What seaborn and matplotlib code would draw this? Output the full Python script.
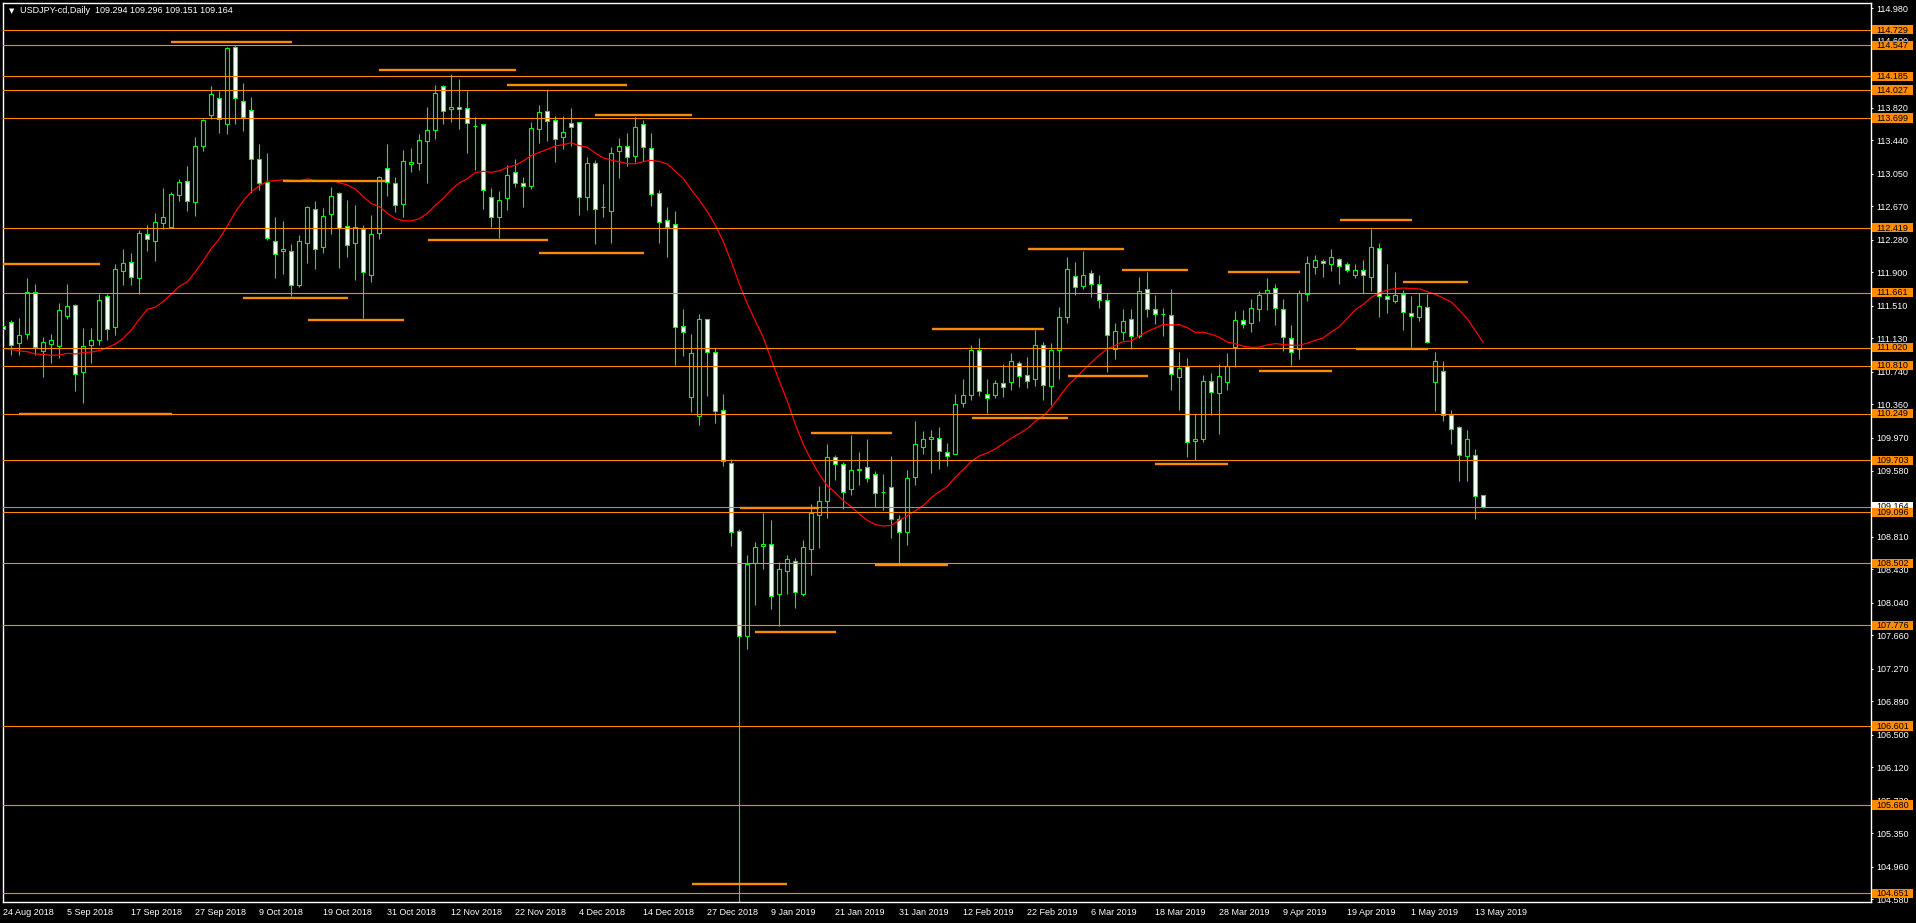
import numpy as np
import pandas as pd
import matplotlib
matplotlib.use('Agg')
import matplotlib.pyplot as plt
import matplotlib.patches as mpatches
import matplotlib.transforms as mtransforms
import seaborn as sns

# ==========================
# USDJPY-cd Daily, 24 Aug 2018 - 14 May 2019 (bar by bar)
# ==========================
opens = [
    111.272, 111.315, 111.070, 111.182, 111.665, 110.976, 111.066, 111.042, 111.385, 111.513,
    110.739, 111.046, 111.105, 111.618, 111.256, 111.910, 112.015, 111.828, 112.342, 112.260,
    112.470, 112.424, 112.797, 112.961, 112.715, 113.369, 113.731, 113.929, 113.626, 114.525,
    113.894, 113.789, 113.217, 112.949, 112.260, 112.151, 112.143, 111.754, 112.236, 112.633,
    112.190, 112.575, 112.820, 112.435, 112.236, 112.400, 111.863, 112.353, 113.112, 112.937,
    112.699, 113.158, 113.178, 113.427, 113.555, 114.069, 113.800, 113.824, 113.812, 113.610,
    113.625, 112.773, 112.540, 112.762, 113.065, 112.937, 112.902, 113.567, 113.777, 113.672,
    113.474, 113.637, 113.649, 112.773, 113.180, 112.666, 112.610, 113.318, 113.370, 113.262,
    113.624, 113.344, 112.821, 112.506, 112.467, 111.267, 110.446, 110.218, 111.349, 110.965,
    110.287, 109.669, 108.879, 107.648, 108.508, 108.706, 108.732, 108.145, 108.417, 108.534,
    108.145, 108.672, 109.069, 109.233, 109.738, 109.657, 109.365, 109.595, 109.630, 109.540,
    109.338, 109.388, 109.023, 108.863, 109.505, 109.863, 109.949, 109.960, 109.797, 109.774,
    110.369, 110.462, 110.988, 110.474, 110.462, 110.602, 110.614, 110.836, 110.696, 110.649,
    111.046, 110.567, 110.988, 111.373, 111.851, 111.735, 111.886, 111.758, 111.571, 110.999,
    111.198, 111.350, 111.151, 111.700, 111.466, 111.416, 111.396, 110.680, 110.800, 109.925,
    109.956, 110.625, 110.493, 110.621, 111.022, 111.337, 111.310, 111.474, 111.653, 111.711,
    111.466, 111.127, 110.999, 111.641, 111.956, 112.026, 111.991, 112.049, 111.991, 111.870,
    111.921, 111.839, 112.178, 111.618, 111.559, 111.641, 111.419, 111.372, 111.489, 110.621,
    110.742, 110.228, 110.088, 109.758, 109.762, 109.294,
]
highs = [
    111.490, 111.342, 111.361, 111.832, 111.758, 111.140, 111.178, 111.536, 111.758, 111.529,
    111.245, 111.245, 111.641, 111.641, 111.996, 112.171, 112.124, 112.389, 112.451, 112.591,
    112.883, 112.832, 112.988, 113.140, 113.478, 113.684, 114.073, 114.015, 114.532, 114.548,
    114.108, 113.945, 113.396, 113.291, 112.544, 112.497, 112.229, 112.334, 112.672, 112.730,
    112.645, 112.894, 112.839, 112.742, 112.684, 112.450, 112.567, 113.022, 113.396, 113.011,
    113.326, 113.349, 113.513, 113.828, 114.084, 114.081, 114.213, 114.155, 114.014, 113.707,
    113.633, 112.878, 112.847, 113.147, 113.221, 113.011, 113.653, 113.851, 114.026, 113.723,
    113.723, 113.812, 113.649, 113.244, 113.206, 112.929, 113.357, 113.465, 113.525, 113.711,
    113.672, 113.525, 112.860, 112.662, 112.614, 111.470, 111.176, 111.409, 111.349, 111.016,
    110.477, 109.717, 108.901, 108.598, 108.749, 109.091, 109.009, 108.516, 108.598, 108.564,
    108.771, 109.194, 109.401, 109.894, 109.764, 109.680, 109.999, 109.797, 109.953, 109.575,
    109.544, 109.754, 109.066, 109.591, 110.163, 110.046, 110.058, 110.093, 109.906, 110.478,
    110.653, 111.046, 111.132, 110.653, 110.641, 110.828, 110.953, 110.863, 110.910, 111.229,
    111.085, 111.073, 111.490, 112.077, 112.019, 112.147, 111.922, 111.867, 111.657, 111.307,
    111.466, 111.466, 111.844, 111.902, 111.634, 111.478, 111.703, 110.968, 110.898, 110.248,
    110.699, 110.723, 110.828, 110.952, 111.446, 111.458, 111.586, 111.684, 111.832, 111.762,
    111.586, 111.283, 111.691, 112.088, 112.100, 112.053, 112.170, 112.065, 112.014, 111.991,
    112.042, 112.404, 112.240, 111.995, 111.902, 111.688, 111.621, 111.660, 111.645, 110.968,
    110.863, 110.291, 110.104, 110.057, 109.835, 109.296,
]
lows = [
    111.101, 110.933, 110.933, 111.120, 110.933, 110.680, 110.844, 110.902, 111.357, 110.517,
    110.377, 110.844, 111.054, 111.108, 111.171, 111.750, 111.750, 111.649, 112.151, 112.034,
    112.408, 112.424, 112.735, 112.618, 112.560, 113.319, 113.684, 113.529, 113.517, 113.634,
    113.552, 112.820, 112.859, 112.276, 111.836, 111.879, 111.622, 111.723, 112.011, 111.940,
    112.127, 112.349, 111.952, 112.081, 111.812, 111.369, 111.781, 112.291, 112.793, 112.606,
    112.548, 113.073, 113.096, 112.944, 113.458, 113.633, 113.656, 113.575, 113.295, 113.096,
    112.641, 112.431, 112.302, 112.629, 112.890, 112.664, 112.867, 113.411, 113.435, 113.190,
    113.341, 113.369, 112.571, 112.629, 112.234, 112.545, 112.243, 113.003, 113.141, 113.184,
    113.193, 112.675, 112.243, 112.083, 110.813, 110.926, 110.269, 110.118, 110.459, 110.144,
    109.643, 108.706, 104.550, 107.506, 108.020, 108.439, 107.972, 107.765, 108.145, 107.985,
    108.123, 108.369, 108.685, 109.030, 109.479, 109.139, 109.303, 109.420, 109.455, 109.163,
    109.124, 108.801, 108.501, 108.715, 109.416, 109.774, 109.560, 109.602, 109.637, 109.774,
    110.330, 110.408, 110.458, 110.252, 110.435, 110.447, 110.525, 110.564, 110.552, 110.575,
    110.408, 110.346, 110.657, 111.311, 111.634, 111.704, 111.614, 111.486, 110.739, 110.883,
    111.112, 110.999, 111.128, 111.381, 111.291, 111.159, 110.524, 110.291, 109.746, 109.703,
    109.921, 110.236, 110.011, 110.524, 110.797, 111.248, 111.205, 111.334, 111.462, 111.287,
    110.983, 110.816, 110.890, 111.567, 111.882, 111.847, 111.917, 111.765, 111.898, 111.835,
    111.653, 111.684, 111.380, 111.427, 111.536, 111.228, 111.030, 111.334, 111.069, 110.283,
    110.166, 109.894, 109.462, 109.462, 109.022, 109.151,
]
closes = [
    111.237, 111.046, 111.163, 111.665, 111.027, 111.081, 111.105, 111.455, 111.501, 110.708,
    111.034, 111.105, 111.571, 111.233, 111.933, 112.003, 111.840, 112.354, 112.283, 112.482,
    112.540, 112.809, 112.949, 112.727, 113.369, 113.673, 113.976, 113.684, 114.513, 113.929,
    113.708, 113.217, 112.937, 112.295, 112.108, 112.171, 111.747, 112.260, 112.656, 112.166,
    112.551, 112.785, 112.411, 112.213, 112.423, 111.898, 112.341, 113.007, 112.948, 112.680,
    113.193, 113.182, 113.439, 113.555, 113.987, 113.777, 113.824, 113.800, 113.637, 113.602,
    112.855, 112.540, 112.738, 113.030, 112.937, 112.902, 113.579, 113.765, 113.660, 113.450,
    113.532, 113.590, 112.773, 113.170, 112.640, 112.657, 113.296, 113.378, 113.240, 113.590,
    113.365, 112.817, 112.480, 112.424, 111.263, 111.206, 110.952, 111.349, 110.973, 110.282,
    109.691, 108.862, 107.648, 108.495, 108.689, 108.732, 108.115, 108.430, 108.547, 108.162,
    108.689, 109.091, 109.224, 109.738, 109.656, 109.330, 109.587, 109.602, 109.494, 109.318,
    109.330, 109.015, 108.863, 109.494, 109.890, 109.949, 109.972, 109.809, 109.750, 110.357,
    110.462, 110.988, 110.509, 110.427, 110.602, 110.556, 110.859, 110.684, 110.626, 111.046,
    110.579, 110.988, 111.373, 111.933, 111.723, 111.863, 111.758, 111.571, 111.163, 111.209,
    111.326, 111.151, 111.676, 111.466, 111.408, 111.408, 110.707, 110.777, 109.913, 109.948,
    110.625, 110.505, 110.684, 110.800, 111.337, 111.298, 111.477, 111.629, 111.688, 111.485,
    111.147, 110.964, 111.653, 112.003, 112.038, 112.003, 112.073, 111.968, 111.921, 111.925,
    111.863, 112.190, 111.618, 111.590, 111.629, 111.431, 111.384, 111.501, 111.081, 110.859,
    110.236, 110.073, 109.769, 109.948, 109.291, 109.164,
]

# red moving average: first 19 bars, the rest is the 20-bar SMA of closes
ma_head = [111.011, 110.999, 110.980, 110.972, 110.945, 110.941, 110.929, 110.933, 110.953, 110.945,
           110.961, 110.968, 110.984, 111.019, 111.062, 111.128, 111.225, 111.350, 111.466]

# horizontal levels (full width) with their labels on the price scale
levels = [114.729, 114.547, 114.185, 114.027, 113.699, 112.419, 111.661, 111.020, 110.810,
          110.249, 109.703, 109.096, 108.502, 107.776, 106.601, 105.680, 104.651]

# short support / resistance segments: start bar, end bar, price
seg_start = [21.0, 47.0, 63.0, 74.0, 35.0, 0.0, 30.0, 38.1, 2.0, 53.1, 67.0, 101.0, 92.1, 94.0,
             86.1, 128.1, 139.8, 116.1, 133.1, 121.1, 144.0, 109.0, 167.1, 153.1, 175.0, 169.1, 157.0]
seg_end = [36.1, 64.1, 78.0, 86.1, 47.8, 12.1, 43.1, 50.1, 21.1, 68.1, 80.1, 111.1, 101.9, 104.1,
           98.0, 140.1, 148.1, 130.1, 143.1, 133.1, 153.1, 118.1, 176.1, 162.1, 183.1, 178.1, 166.1]
seg_price = [114.590, 114.260, 114.088, 113.737, 112.968, 111.999, 111.602, 111.345, 110.245,
             112.279, 112.127, 110.027, 109.150, 107.700, 104.760, 112.170, 111.925, 111.241,
             110.692, 110.202, 109.665, 108.482, 112.512, 111.905, 111.789, 111.007, 110.750]

bid = 109.164

price_ticks = [114.98, 114.60, 114.21, 113.82, 113.44, 113.05, 112.67, 112.28, 111.90, 111.51,
               111.13, 110.74, 110.36, 109.97, 109.58, 109.19, 108.81, 108.43, 108.04, 107.66,
               107.27, 106.89, 106.50, 106.12, 105.73, 105.35, 104.96, 104.58]

date_labels = ['24 Aug 2018', '5 Sep 2018', '17 Sep 2018', '27 Sep 2018', '9 Oct 2018',
               '19 Oct 2018', '31 Oct 2018', '12 Nov 2018', '22 Nov 2018', '4 Dec 2018',
               '14 Dec 2018', '27 Dec 2018', '9 Jan 2019', '21 Jan 2019', '31 Jan 2019',
               '12 Feb 2019', '22 Feb 2019', '6 Mar 2019', '18 Mar 2019', '28 Mar 2019',
               '9 Apr 2019', '19 Apr 2019', '1 May 2019', '13 May 2019']

# ==========================
# style
# ==========================
GREEN = '#00FF00'
ORANGE = '#FF8C00'
sns.set_style('dark', {'axes.facecolor': 'black', 'figure.facecolor': 'black'})
plt.rcParams['font.family'] = ['Liberation Sans', 'DejaVu Sans']
FS = 6.5

W, H = 1916, 923
fig = plt.figure(figsize=(W / 100, H / 100), dpi=100)
fig.patch.set_facecolor('black')
ax_w, ax_h = 1868.0, 899.5
ax = fig.add_axes([2.5 / W, (H - 902) / H, ax_w / W, ax_h / H])
ax.set_facecolor('black')

df = pd.DataFrame({'o': opens, 'h': highs, 'l': lows, 'c': closes})
df['x'] = np.arange(len(df))
up = df['c'] >= df['o']

ma = df['c'].rolling(20).mean()
ma.iloc[:len(ma_head)] = ma_head
df['ma'] = ma

# candles: wicks, then bodies (bull = black with green edge, bear = white with green edge)
ax.vlines(df['x'], df['l'], df['h'], color=GREEN, lw=0.8, zorder=2)
body_h = (df['c'] - df['o']).abs().clip(lower=0.004)
body_b = df[['o', 'c']].min(axis=1)
ax.bar(df['x'], body_h, bottom=body_b, width=0.5,
       color=np.where(up, 'black', 'white'), edgecolor=GREEN, linewidth=0.8, zorder=3)

sns.lineplot(data=df, x='x', y='ma', color='red', lw=0.9, ax=ax, zorder=4, legend=False)

for lvl in levels:
    ax.axhline(lvl, color=ORANGE, lw=0.8, zorder=5)
ax.axhline(bid, color='#8895A5', lw=0.8, zorder=5)
ax.hlines(seg_price, seg_start, seg_end, color=ORANGE, lw=1.7, zorder=6)

ymin, ymax = 104.548, 115.048
ax.set_xlim(-0.1, 233.4)
ax.set_ylim(ymin, ymax)
ax.set_xlabel('')
ax.set_ylabel('')

# axes, ticks
for sp in ax.spines.values():
    sp.set_visible(True)
    sp.set_color('white')
    sp.set_linewidth(1.0)
ax.grid(False)
ax.set_xticks(np.arange(0, 8 * len(date_labels), 8), date_labels, ha='left')
ax.tick_params(axis='x', colors='white', length=2.5, width=0.75, pad=2, labelsize=FS)
ax.yaxis.tick_right()
ax.set_yticks(price_ticks, [f'{t:.3f}' for t in price_ticks])
ax.tick_params(axis='y', colors='white', length=1.5, width=0.75, pad=3, labelsize=FS)

# price labels on the right scale
trans = mtransforms.blended_transform_factory(ax.transAxes, ax.transData)
dy = (ymax - ymin) / ax_h
box_h = 9.3 * dy


def price_box(val, fc, z):
    ax.add_patch(mpatches.Rectangle((1 + 1.2 / ax_w, val - box_h / 2), 41.5 / ax_w, box_h,
                                    transform=trans, clip_on=False, fc=fc, ec='none', zorder=z))
    ax.text(1 + 6.0 / ax_w, val - 0.3 * dy, f'{val:.3f}', transform=trans, clip_on=False,
            ha='left', va='center', fontsize=FS, color='black', zorder=z + 0.5)


price_box(bid, 'white', 7)
for lvl in levels:
    price_box(lvl, ORANGE, 8)

# chart header
ax.text(6.5 / ax_w, 1 - 8.5 / ax_h, '\u25bc', transform=ax.transAxes, color='white',
        fontsize=5, ha='left', va='center', family=['DejaVu Sans'])
ax.text(18.0 / ax_w, 1 - 8.2 / ax_h,
        f'USDJPY-cd,Daily  {opens[-1]:.3f} {highs[-1]:.3f} {lows[-1]:.3f} {closes[-1]:.3f}',
        transform=ax.transAxes, color='white', fontsize=FS, ha='left', va='center')

fig.savefig('out.png', dpi=100, facecolor='black')
